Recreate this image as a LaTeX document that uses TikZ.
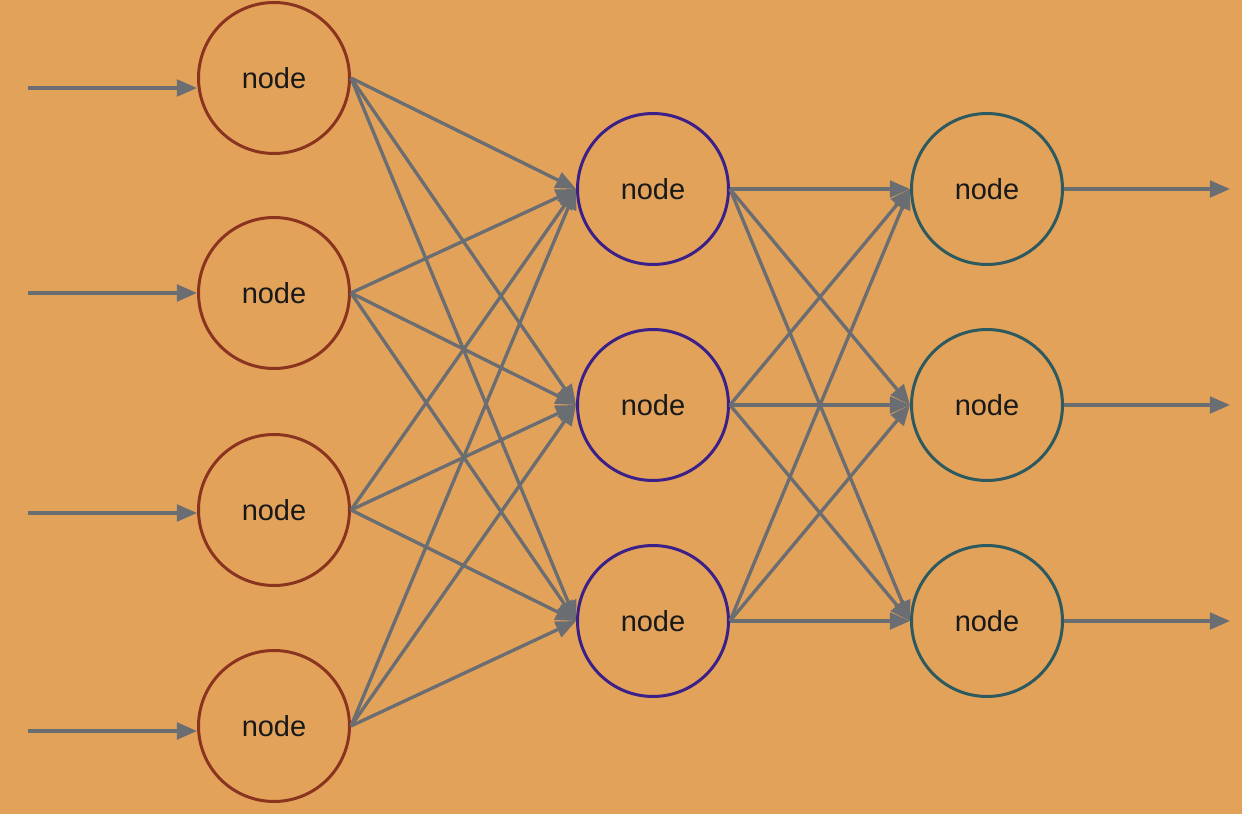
\documentclass[tikz,border=0pt]{standalone}
\usepackage{fontspec}
\setmainfont{Liberation Sans}
\usepackage{tikz}
\usetikzlibrary{arrows.meta}
\definecolor{bgorange}{HTML}{E3A25A}
\definecolor{inred}{HTML}{8A3420}
\definecolor{hidpurple}{HTML}{3A2088}
\definecolor{outteal}{HTML}{2D5A60}
\definecolor{wiregray}{HTML}{6A6D71}
\tikzset{
	neuron/.style={circle, draw, line width=1.7pt, inner sep=0pt, minimum size=3.02cm,
		font=\fontsize{16.5}{20}\selectfont, text=black!90},
	wire/.style={draw=wiregray, line width=1.9pt, -{Triangle[length=11.5pt,width=9.5pt]}}
}

\begin{document}
\begin{tikzpicture}[x=0.02cm, y=-0.02cm]
		%%%%% BACKGROUND %%%%%
		
		\fill[bgorange] (0, 0) rectangle (1242, 814);
		\useasboundingbox (0, 0) rectangle (1242, 814);
		
		%%%%% NODES %%%%%
		
		\node[neuron, draw=inred] (in1) at (274, 78) {node};
		\node[neuron, draw=inred] (in2) at (274, 293) {node};
		\node[neuron, draw=inred] (in3) at (274, 510) {node};
		\node[neuron, draw=inred] (in4) at (274, 726) {node};
		
		\node[neuron, draw=hidpurple] (hid1) at (653, 189) {node};
		\node[neuron, draw=hidpurple] (hid2) at (653, 405) {node};
		\node[neuron, draw=hidpurple] (hid3) at (653, 621) {node};
		
		\node[neuron, draw=outteal] (out1) at (987, 189) {node};
		\node[neuron, draw=outteal] (out2) at (987, 405) {node};
		\node[neuron, draw=outteal] (out3) at (987, 621) {node};
		
		%%%%% INPUTS %%%%%
		
		\coordinate (src1) at (28, 88);
		\coordinate (src2) at (28, 293);
		\coordinate (src3) at (28, 513);
		\coordinate (src4) at (28, 731);
		
		\draw[wire] (src1) -- (src1 -| in1.west);
		\draw[wire] (src2) -- (src2 -| in2.west);
		\draw[wire] (src3) -- (src3 -| in3.west);
		\draw[wire] (src4) -- (src4 -| in4.west);
		
		%%%%% INPUT -> HIDDEN %%%%%
		
		\draw[wire] (in1.east) -- (hid1.west);
		\draw[wire] (in1.east) -- (hid2.west);
		\draw[wire] (in1.east) -- (hid3.west);
		
		\draw[wire] (in2.east) -- (hid1.west);
		\draw[wire] (in2.east) -- (hid2.west);
		\draw[wire] (in2.east) -- (hid3.west);
		
		\draw[wire] (in3.east) -- (hid1.west);
		\draw[wire] (in3.east) -- (hid2.west);
		\draw[wire] (in3.east) -- (hid3.west);
		
		\draw[wire] (in4.east) -- (hid1.west);
		\draw[wire] (in4.east) -- (hid2.west);
		\draw[wire] (in4.east) -- (hid3.west);
		
		%%%%% HIDDEN -> OUTPUT %%%%%
		
		\draw[wire] (hid1.east) -- (out1.west);
		\draw[wire] (hid1.east) -- (out2.west);
		\draw[wire] (hid1.east) -- (out3.west);
		
		\draw[wire] (hid2.east) -- (out1.west);
		\draw[wire] (hid2.east) -- (out2.west);
		\draw[wire] (hid2.east) -- (out3.west);
		
		\draw[wire] (hid3.east) -- (out1.west);
		\draw[wire] (hid3.east) -- (out2.west);
		\draw[wire] (hid3.east) -- (out3.west);
		
		%%%%% OUTPUTS %%%%%
		
		\coordinate (dst1) at (1230, 189);
		\coordinate (dst2) at (1230, 405);
		\coordinate (dst3) at (1230, 621);
		
		\draw[wire] (out1.east) -- (dst1);
		\draw[wire] (out2.east) -- (dst2);
		\draw[wire] (out3.east) -- (dst3);
		
		%%%%% END %%%%%
	\end{tikzpicture}
\end{document}
